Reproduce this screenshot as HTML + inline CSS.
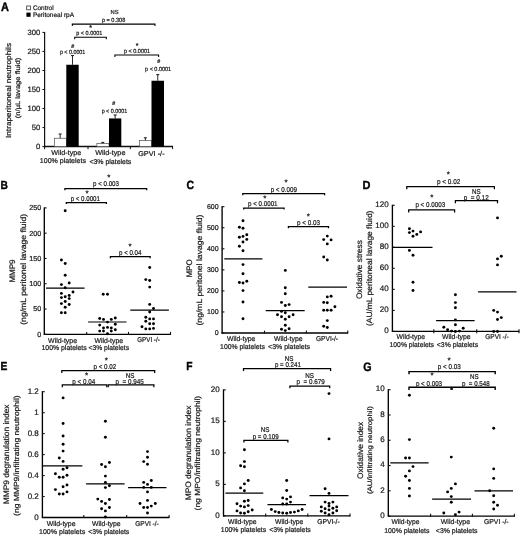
<!DOCTYPE html>
<html><head><meta charset="utf-8"><title>Figure</title>
<style>
html,body{margin:0;padding:0;background:#fff;}
svg{display:block;filter:grayscale(1);font-family:"Liberation Sans",sans-serif;}
text{stroke:#222;stroke-width:0.22px;paint-order:stroke;text-rendering:geometricPrecision;}
</style></head><body>
<svg width="520" height="536" viewBox="0 0 520 536">
<rect x="0" y="0" width="520" height="536" fill="#fff"/>
<text x="0.90" y="10.50" font-size="12.2" font-weight="bold" style="stroke:#000;stroke-width:0.38px" textLength="7.93" lengthAdjust="spacingAndGlyphs" fill="#000">A</text>
<rect x="26.70" y="6.00" width="3.80" height="3.80" fill="#fff" stroke="#333" stroke-width="0.8"/>
<rect x="26.40" y="12.60" width="4.20" height="4.20" fill="#000"/>
<text x="32.90" y="9.74" font-size="6.5" textLength="20.70" lengthAdjust="spacingAndGlyphs" fill="#1a1a1a">Control</text>
<text x="32.90" y="16.94" font-size="6.5" textLength="41.10" lengthAdjust="spacingAndGlyphs" fill="#1a1a1a">Peritoneal rpA</text>
<line x1="44.60" y1="31.90" x2="44.60" y2="147.30" stroke="#111" stroke-width="1.2"/>
<line x1="44.00" y1="146.60" x2="173.00" y2="146.60" stroke="#111" stroke-width="1.5"/>
<line x1="42.40" y1="146.60" x2="44.60" y2="146.60" stroke="#111" stroke-width="1"/>
<text x="40.30" y="149.37" font-size="7.7" text-anchor="end" fill="#1a1a1a">0</text>
<line x1="42.40" y1="127.57" x2="44.60" y2="127.57" stroke="#111" stroke-width="1"/>
<text x="40.30" y="130.34" font-size="7.7" text-anchor="end" fill="#1a1a1a">50</text>
<line x1="42.40" y1="108.53" x2="44.60" y2="108.53" stroke="#111" stroke-width="1"/>
<text x="40.30" y="111.31" font-size="7.7" text-anchor="end" fill="#1a1a1a">100</text>
<line x1="42.40" y1="89.50" x2="44.60" y2="89.50" stroke="#111" stroke-width="1"/>
<text x="40.30" y="92.27" font-size="7.7" text-anchor="end" fill="#1a1a1a">150</text>
<line x1="42.40" y1="70.47" x2="44.60" y2="70.47" stroke="#111" stroke-width="1"/>
<text x="40.30" y="73.24" font-size="7.7" text-anchor="end" fill="#1a1a1a">200</text>
<line x1="42.40" y1="51.43" x2="44.60" y2="51.43" stroke="#111" stroke-width="1"/>
<text x="40.30" y="54.21" font-size="7.7" text-anchor="end" fill="#1a1a1a">250</text>
<line x1="42.40" y1="32.40" x2="44.60" y2="32.40" stroke="#111" stroke-width="1"/>
<text x="40.30" y="35.17" font-size="7.7" text-anchor="end" fill="#1a1a1a">300</text>
<line x1="44.60" y1="146.60" x2="44.60" y2="149.20" stroke="#111" stroke-width="1"/>
<line x1="88.00" y1="146.60" x2="88.00" y2="149.20" stroke="#111" stroke-width="1"/>
<line x1="130.30" y1="146.60" x2="130.30" y2="149.20" stroke="#111" stroke-width="1"/>
<line x1="172.60" y1="146.60" x2="172.60" y2="149.20" stroke="#111" stroke-width="1"/>
<rect x="54.40" y="138.23" width="11.90" height="8.37" fill="#fff" stroke="#444" stroke-width="0.65"/>
<line x1="60.15" y1="138.23" x2="60.15" y2="134.04" stroke="#111" stroke-width="0.9"/>
<line x1="58.65" y1="134.04" x2="61.65" y2="134.04" stroke="#111" stroke-width="1.0"/>
<rect x="66.30" y="64.76" width="12.40" height="81.84" fill="#000"/>
<line x1="72.50" y1="64.76" x2="72.50" y2="55.62" stroke="#111" stroke-width="0.9"/>
<line x1="71.00" y1="55.62" x2="74.00" y2="55.62" stroke="#111" stroke-width="1.0"/>
<rect x="96.90" y="143.55" width="12.10" height="3.05" fill="#fff" stroke="#444" stroke-width="0.65"/>
<line x1="102.75" y1="143.55" x2="102.75" y2="142.41" stroke="#111" stroke-width="0.9"/>
<line x1="101.25" y1="142.41" x2="104.25" y2="142.41" stroke="#111" stroke-width="1.0"/>
<rect x="109.00" y="118.43" width="12.30" height="28.17" fill="#000"/>
<line x1="115.15" y1="118.43" x2="115.15" y2="115.00" stroke="#111" stroke-width="0.9"/>
<line x1="113.65" y1="115.00" x2="116.65" y2="115.00" stroke="#111" stroke-width="1.0"/>
<rect x="139.60" y="140.51" width="11.90" height="6.09" fill="#fff" stroke="#444" stroke-width="0.65"/>
<line x1="145.35" y1="140.51" x2="145.35" y2="137.84" stroke="#111" stroke-width="0.9"/>
<line x1="143.85" y1="137.84" x2="146.85" y2="137.84" stroke="#111" stroke-width="1.0"/>
<rect x="151.50" y="80.74" width="12.50" height="65.86" fill="#000"/>
<line x1="157.75" y1="80.74" x2="157.75" y2="74.65" stroke="#111" stroke-width="0.9"/>
<line x1="156.25" y1="74.65" x2="159.25" y2="74.65" stroke="#111" stroke-width="1.0"/>
<text x="66.30" y="155.12" font-size="7" text-anchor="middle" textLength="29.90" lengthAdjust="spacingAndGlyphs" fill="#1a1a1a">Wild-type</text>
<text x="62.90" y="163.32" font-size="7" text-anchor="middle" textLength="46.20" lengthAdjust="spacingAndGlyphs" fill="#1a1a1a">100% platelets</text>
<text x="110.30" y="155.12" font-size="7" text-anchor="middle" textLength="30.30" lengthAdjust="spacingAndGlyphs" fill="#1a1a1a">Wild-type</text>
<text x="110.40" y="163.52" font-size="7" text-anchor="middle" textLength="41.90" lengthAdjust="spacingAndGlyphs" fill="#1a1a1a">&lt;3% platelets</text>
<text x="151.40" y="155.52" font-size="7" text-anchor="middle" textLength="26.40" lengthAdjust="spacingAndGlyphs" fill="#1a1a1a">GPVI -/-</text>
<text x="10.80" y="90.50" font-size="7.4" text-anchor="middle" textLength="95.00" lengthAdjust="spacingAndGlyphs" transform="rotate(-90 10.80 90.50)" fill="#1a1a1a">Intraperitoneal neutrophils</text>
<text x="20.30" y="88.00" font-size="6.6" text-anchor="middle" textLength="60.50" lengthAdjust="spacingAndGlyphs" transform="rotate(-90 20.30 88.00)" fill="#1a1a1a">(n/µL lavage fluid)</text>
<path d="M72.30 26.10V24.10H155.00V26.10" fill="none" stroke="#000" stroke-width="1.06"/>
<text x="114.50" y="14.09" font-size="5.8" text-anchor="middle" fill="#1a1a1a">NS</text>
<text x="113.60" y="21.96" font-size="6" text-anchor="middle" textLength="23.40" lengthAdjust="spacingAndGlyphs" fill="#1a1a1a">p = 0.308</text>
<path d="M74.70 39.20V37.20H106.30V39.20" fill="none" stroke="#000" stroke-width="1.06"/>
<text x="90.60" y="30.29" font-size="7" text-anchor="middle" fill="#000">*</text>
<text x="89.30" y="35.46" font-size="6" text-anchor="middle" textLength="26.00" lengthAdjust="spacingAndGlyphs" fill="#1a1a1a">p &lt; 0.0001</text>
<text x="72.70" y="47.51" font-size="5.3" text-anchor="middle" font-weight="bold" fill="#1a1a1a">#</text>
<text x="72.60" y="53.76" font-size="6" text-anchor="middle" textLength="25.40" lengthAdjust="spacingAndGlyphs" fill="#1a1a1a">p &lt; 0.0001</text>
<path d="M114.90 57.00V55.00H158.60V57.00" fill="none" stroke="#000" stroke-width="1.06"/>
<text x="137.00" y="48.39" font-size="7" text-anchor="middle" fill="#000">*</text>
<text x="137.00" y="52.96" font-size="6" text-anchor="middle" textLength="26.20" lengthAdjust="spacingAndGlyphs" fill="#1a1a1a">p &lt; 0.0001</text>
<text x="158.70" y="62.91" font-size="5.3" text-anchor="middle" font-weight="bold" fill="#1a1a1a">#</text>
<text x="158.10" y="70.66" font-size="6" text-anchor="middle" textLength="26.00" lengthAdjust="spacingAndGlyphs" fill="#1a1a1a">p &lt; 0.0001</text>
<text x="113.80" y="104.51" font-size="5.3" text-anchor="middle" font-weight="bold" fill="#1a1a1a">#</text>
<text x="114.40" y="112.66" font-size="6" text-anchor="middle" textLength="25.50" lengthAdjust="spacingAndGlyphs" fill="#1a1a1a">p &lt; 0.0001</text>
<text x="0.60" y="189.10" font-size="11.8" font-weight="bold" style="stroke:#000;stroke-width:0.38px" textLength="7.41" lengthAdjust="spacingAndGlyphs" fill="#000">B</text>
<line x1="44.30" y1="207.40" x2="44.30" y2="334.80" stroke="#000" stroke-width="1.35"/>
<line x1="43.80" y1="334.30" x2="170.90" y2="334.30" stroke="#000" stroke-width="1.35"/>
<line x1="44.00" y1="334.30" x2="46.60" y2="334.30" stroke="#111" stroke-width="1.1"/>
<text x="41.20" y="336.69" font-size="7.2" text-anchor="end" fill="#1a1a1a">0</text>
<line x1="44.00" y1="309.02" x2="46.60" y2="309.02" stroke="#111" stroke-width="1.1"/>
<text x="41.20" y="311.41" font-size="7.2" text-anchor="end" fill="#1a1a1a">50</text>
<line x1="44.00" y1="283.74" x2="46.60" y2="283.74" stroke="#111" stroke-width="1.1"/>
<text x="41.20" y="286.13" font-size="7.2" text-anchor="end" fill="#1a1a1a">100</text>
<line x1="44.00" y1="258.46" x2="46.60" y2="258.46" stroke="#111" stroke-width="1.1"/>
<text x="41.20" y="260.85" font-size="7.2" text-anchor="end" fill="#1a1a1a">150</text>
<line x1="44.00" y1="233.18" x2="46.60" y2="233.18" stroke="#111" stroke-width="1.1"/>
<text x="41.20" y="235.57" font-size="7.2" text-anchor="end" fill="#1a1a1a">200</text>
<line x1="44.00" y1="207.90" x2="46.60" y2="207.90" stroke="#111" stroke-width="1.1"/>
<text x="41.20" y="210.29" font-size="7.2" text-anchor="end" fill="#1a1a1a">250</text>
<line x1="86.70" y1="331.90" x2="86.70" y2="334.90" stroke="#111" stroke-width="1.1"/>
<line x1="128.50" y1="331.90" x2="128.50" y2="334.90" stroke="#111" stroke-width="1.1"/>
<line x1="170.50" y1="331.90" x2="170.50" y2="334.90" stroke="#111" stroke-width="1.1"/>
<circle cx="65.20" cy="210.80" r="1.45" fill="#000"/>
<circle cx="61.40" cy="260.00" r="1.45" fill="#000"/>
<circle cx="65.20" cy="263.50" r="1.45" fill="#000"/>
<circle cx="65.20" cy="275.20" r="1.45" fill="#000"/>
<circle cx="61.40" cy="284.60" r="1.45" fill="#000"/>
<circle cx="69.20" cy="283.00" r="1.45" fill="#000"/>
<circle cx="65.20" cy="287.70" r="1.45" fill="#000"/>
<circle cx="73.00" cy="292.00" r="1.45" fill="#000"/>
<circle cx="61.40" cy="293.40" r="1.45" fill="#000"/>
<circle cx="69.20" cy="295.50" r="1.45" fill="#000"/>
<circle cx="65.20" cy="296.70" r="1.45" fill="#000"/>
<circle cx="61.40" cy="297.60" r="1.45" fill="#000"/>
<circle cx="69.20" cy="298.60" r="1.45" fill="#000"/>
<circle cx="65.20" cy="301.50" r="1.45" fill="#000"/>
<circle cx="61.40" cy="303.60" r="1.45" fill="#000"/>
<circle cx="69.20" cy="304.50" r="1.45" fill="#000"/>
<circle cx="65.20" cy="307.20" r="1.45" fill="#000"/>
<circle cx="61.40" cy="312.80" r="1.45" fill="#000"/>
<circle cx="65.20" cy="312.80" r="1.45" fill="#000"/>
<circle cx="103.20" cy="294.30" r="1.45" fill="#000"/>
<circle cx="107.50" cy="294.30" r="1.45" fill="#000"/>
<circle cx="99.70" cy="318.50" r="1.45" fill="#000"/>
<circle cx="103.50" cy="319.40" r="1.45" fill="#000"/>
<circle cx="111.30" cy="319.40" r="1.45" fill="#000"/>
<circle cx="115.30" cy="318.00" r="1.45" fill="#000"/>
<circle cx="107.50" cy="322.10" r="1.45" fill="#000"/>
<circle cx="99.70" cy="325.10" r="1.45" fill="#000"/>
<circle cx="115.30" cy="324.20" r="1.45" fill="#000"/>
<circle cx="103.50" cy="328.00" r="1.45" fill="#000"/>
<circle cx="107.50" cy="327.40" r="1.45" fill="#000"/>
<circle cx="111.30" cy="328.00" r="1.45" fill="#000"/>
<circle cx="99.70" cy="331.10" r="1.45" fill="#000"/>
<circle cx="103.50" cy="331.10" r="1.45" fill="#000"/>
<circle cx="111.30" cy="331.10" r="1.45" fill="#000"/>
<circle cx="115.30" cy="329.70" r="1.45" fill="#000"/>
<circle cx="107.50" cy="333.70" r="1.45" fill="#000"/>
<circle cx="149.70" cy="267.50" r="1.45" fill="#000"/>
<circle cx="145.80" cy="279.60" r="1.45" fill="#000"/>
<circle cx="149.70" cy="280.50" r="1.45" fill="#000"/>
<circle cx="149.70" cy="287.10" r="1.45" fill="#000"/>
<circle cx="149.70" cy="304.40" r="1.45" fill="#000"/>
<circle cx="153.50" cy="308.50" r="1.45" fill="#000"/>
<circle cx="149.70" cy="312.00" r="1.45" fill="#000"/>
<circle cx="145.80" cy="317.30" r="1.45" fill="#000"/>
<circle cx="149.70" cy="318.90" r="1.45" fill="#000"/>
<circle cx="153.50" cy="318.90" r="1.45" fill="#000"/>
<circle cx="145.80" cy="321.20" r="1.45" fill="#000"/>
<circle cx="149.70" cy="323.70" r="1.45" fill="#000"/>
<circle cx="153.50" cy="323.70" r="1.45" fill="#000"/>
<circle cx="142.00" cy="326.70" r="1.45" fill="#000"/>
<circle cx="145.80" cy="328.90" r="1.45" fill="#000"/>
<circle cx="149.70" cy="328.90" r="1.45" fill="#000"/>
<circle cx="153.50" cy="328.40" r="1.45" fill="#000"/>
<line x1="46.00" y1="288.20" x2="84.60" y2="288.20" stroke="#000" stroke-width="1.2"/>
<line x1="88.10" y1="322.00" x2="126.50" y2="322.00" stroke="#000" stroke-width="1.2"/>
<line x1="130.30" y1="310.20" x2="168.90" y2="310.20" stroke="#000" stroke-width="1.2"/>
<text x="62.60" y="342.52" font-size="7" text-anchor="middle" textLength="29.00" lengthAdjust="spacingAndGlyphs" fill="#1a1a1a">Wild-type</text>
<text x="108.80" y="342.52" font-size="7" text-anchor="middle" textLength="28.60" lengthAdjust="spacingAndGlyphs" fill="#1a1a1a">Wild-type</text>
<text x="148.50" y="342.32" font-size="7" text-anchor="middle" textLength="22.50" lengthAdjust="spacingAndGlyphs" fill="#1a1a1a">GPVI -/-</text>
<text x="64.10" y="350.12" font-size="7" text-anchor="middle" textLength="45.20" lengthAdjust="spacingAndGlyphs" fill="#1a1a1a">100% platelets</text>
<text x="108.80" y="350.12" font-size="7" text-anchor="middle" textLength="40.50" lengthAdjust="spacingAndGlyphs" fill="#1a1a1a">&lt;3% platelets</text>
<text x="14.80" y="271.00" font-size="8" text-anchor="middle" transform="rotate(-90 14.80 271.00)" fill="#1a1a1a">MMP9</text>
<text x="25.90" y="269.30" font-size="7.8" text-anchor="middle" textLength="111.00" lengthAdjust="spacingAndGlyphs" transform="rotate(-90 25.90 269.30)" fill="#1a1a1a">(ng/mL peritonel lavage fluid)</text>
<path d="M64.90 190.30V188.70H146.70V190.30" fill="none" stroke="#000" stroke-width="1.25"/>
<text x="108.70" y="180.00" font-size="8" text-anchor="middle" fill="#000">*</text>
<text x="106.00" y="186.22" font-size="7.0" text-anchor="middle" textLength="25.90" lengthAdjust="spacingAndGlyphs" fill="#1a1a1a">p &lt; 0.003</text>
<path d="M66.30 204.10V202.50H106.40V204.10" fill="none" stroke="#000" stroke-width="1.25"/>
<text x="87.00" y="195.60" font-size="8" text-anchor="middle" fill="#000">*</text>
<text x="85.30" y="200.92" font-size="7.0" text-anchor="middle" textLength="29.30" lengthAdjust="spacingAndGlyphs" fill="#1a1a1a">p &lt; 0.0001</text>
<path d="M110.40 258.30V256.70H150.20V258.30" fill="none" stroke="#000" stroke-width="1.25"/>
<text x="130.10" y="249.20" font-size="8" text-anchor="middle" fill="#000">*</text>
<text x="130.20" y="255.42" font-size="7.0" text-anchor="middle" textLength="22.40" lengthAdjust="spacingAndGlyphs" fill="#1a1a1a">p &lt; 0.04</text>
<text x="186.50" y="188.70" font-size="11.9" font-weight="bold" style="stroke:#000;stroke-width:0.38px" textLength="7.61" lengthAdjust="spacingAndGlyphs" fill="#000">C</text>
<line x1="222.10" y1="206.20" x2="222.10" y2="333.50" stroke="#000" stroke-width="1.35"/>
<line x1="221.60" y1="333.00" x2="348.00" y2="333.00" stroke="#000" stroke-width="1.35"/>
<line x1="221.80" y1="333.00" x2="224.40" y2="333.00" stroke="#111" stroke-width="1.1"/>
<text x="218.60" y="335.02" font-size="7" text-anchor="end" fill="#1a1a1a">0</text>
<line x1="221.80" y1="311.95" x2="224.40" y2="311.95" stroke="#111" stroke-width="1.1"/>
<text x="218.60" y="313.97" font-size="7" text-anchor="end" fill="#1a1a1a">100</text>
<line x1="221.80" y1="290.90" x2="224.40" y2="290.90" stroke="#111" stroke-width="1.1"/>
<text x="218.60" y="292.92" font-size="7" text-anchor="end" fill="#1a1a1a">200</text>
<line x1="221.80" y1="269.85" x2="224.40" y2="269.85" stroke="#111" stroke-width="1.1"/>
<text x="218.60" y="271.87" font-size="7" text-anchor="end" fill="#1a1a1a">300</text>
<line x1="221.80" y1="248.80" x2="224.40" y2="248.80" stroke="#111" stroke-width="1.1"/>
<text x="218.60" y="250.82" font-size="7" text-anchor="end" fill="#1a1a1a">400</text>
<line x1="221.80" y1="227.75" x2="224.40" y2="227.75" stroke="#111" stroke-width="1.1"/>
<text x="218.60" y="229.77" font-size="7" text-anchor="end" fill="#1a1a1a">500</text>
<line x1="221.80" y1="206.70" x2="224.40" y2="206.70" stroke="#111" stroke-width="1.1"/>
<text x="218.60" y="208.72" font-size="7" text-anchor="end" fill="#1a1a1a">600</text>
<line x1="264.50" y1="330.60" x2="264.50" y2="333.60" stroke="#111" stroke-width="1.1"/>
<line x1="306.40" y1="330.60" x2="306.40" y2="333.60" stroke="#111" stroke-width="1.1"/>
<line x1="347.80" y1="330.60" x2="347.80" y2="333.60" stroke="#111" stroke-width="1.1"/>
<circle cx="243.00" cy="220.80" r="1.45" fill="#000"/>
<circle cx="239.40" cy="227.20" r="1.45" fill="#000"/>
<circle cx="243.00" cy="228.30" r="1.45" fill="#000"/>
<circle cx="246.80" cy="234.70" r="1.45" fill="#000"/>
<circle cx="243.00" cy="236.40" r="1.45" fill="#000"/>
<circle cx="239.40" cy="237.30" r="1.45" fill="#000"/>
<circle cx="246.80" cy="239.40" r="1.45" fill="#000"/>
<circle cx="243.00" cy="242.00" r="1.45" fill="#000"/>
<circle cx="239.40" cy="246.30" r="1.45" fill="#000"/>
<circle cx="243.00" cy="250.80" r="1.45" fill="#000"/>
<circle cx="243.00" cy="264.60" r="1.45" fill="#000"/>
<circle cx="243.00" cy="273.80" r="1.45" fill="#000"/>
<circle cx="246.80" cy="281.30" r="1.45" fill="#000"/>
<circle cx="239.40" cy="282.50" r="1.45" fill="#000"/>
<circle cx="243.00" cy="283.00" r="1.45" fill="#000"/>
<circle cx="243.00" cy="290.60" r="1.45" fill="#000"/>
<circle cx="243.00" cy="302.00" r="1.45" fill="#000"/>
<circle cx="243.00" cy="318.80" r="1.45" fill="#000"/>
<circle cx="285.30" cy="270.40" r="1.45" fill="#000"/>
<circle cx="285.30" cy="287.70" r="1.45" fill="#000"/>
<circle cx="285.30" cy="293.70" r="1.45" fill="#000"/>
<circle cx="281.50" cy="302.40" r="1.45" fill="#000"/>
<circle cx="289.10" cy="304.60" r="1.45" fill="#000"/>
<circle cx="285.30" cy="305.50" r="1.45" fill="#000"/>
<circle cx="281.50" cy="311.40" r="1.45" fill="#000"/>
<circle cx="285.30" cy="312.80" r="1.45" fill="#000"/>
<circle cx="277.50" cy="314.80" r="1.45" fill="#000"/>
<circle cx="293.10" cy="314.80" r="1.45" fill="#000"/>
<circle cx="281.50" cy="316.70" r="1.45" fill="#000"/>
<circle cx="289.10" cy="316.70" r="1.45" fill="#000"/>
<circle cx="285.30" cy="319.30" r="1.45" fill="#000"/>
<circle cx="285.30" cy="325.20" r="1.45" fill="#000"/>
<circle cx="289.10" cy="328.70" r="1.45" fill="#000"/>
<circle cx="281.50" cy="329.20" r="1.45" fill="#000"/>
<circle cx="285.30" cy="330.60" r="1.45" fill="#000"/>
<circle cx="327.30" cy="236.10" r="1.45" fill="#000"/>
<circle cx="323.70" cy="239.60" r="1.45" fill="#000"/>
<circle cx="331.10" cy="239.90" r="1.45" fill="#000"/>
<circle cx="327.30" cy="243.90" r="1.45" fill="#000"/>
<circle cx="323.70" cy="257.00" r="1.45" fill="#000"/>
<circle cx="327.30" cy="260.00" r="1.45" fill="#000"/>
<circle cx="327.30" cy="296.90" r="1.45" fill="#000"/>
<circle cx="331.10" cy="296.30" r="1.45" fill="#000"/>
<circle cx="323.70" cy="302.40" r="1.45" fill="#000"/>
<circle cx="327.30" cy="302.70" r="1.45" fill="#000"/>
<circle cx="334.90" cy="306.70" r="1.45" fill="#000"/>
<circle cx="323.70" cy="310.20" r="1.45" fill="#000"/>
<circle cx="327.30" cy="310.20" r="1.45" fill="#000"/>
<circle cx="331.10" cy="310.20" r="1.45" fill="#000"/>
<circle cx="327.30" cy="320.60" r="1.45" fill="#000"/>
<circle cx="323.70" cy="326.30" r="1.45" fill="#000"/>
<circle cx="327.30" cy="327.50" r="1.45" fill="#000"/>
<line x1="224.30" y1="258.90" x2="262.40" y2="258.90" stroke="#000" stroke-width="1.2"/>
<line x1="265.70" y1="310.70" x2="304.70" y2="310.70" stroke="#000" stroke-width="1.2"/>
<line x1="308.30" y1="287.20" x2="347.00" y2="287.20" stroke="#000" stroke-width="1.2"/>
<text x="241.20" y="341.22" font-size="7" text-anchor="middle" textLength="28.50" lengthAdjust="spacingAndGlyphs" fill="#1a1a1a">Wild-type</text>
<text x="288.30" y="341.22" font-size="7" text-anchor="middle" textLength="28.60" lengthAdjust="spacingAndGlyphs" fill="#1a1a1a">Wild-type</text>
<text x="327.00" y="341.22" font-size="7" text-anchor="middle" textLength="22.10" lengthAdjust="spacingAndGlyphs" fill="#1a1a1a">GPVI-/-</text>
<text x="242.50" y="348.52" font-size="7" text-anchor="middle" textLength="44.80" lengthAdjust="spacingAndGlyphs" fill="#1a1a1a">100% platelets</text>
<text x="289.10" y="348.52" font-size="7" text-anchor="middle" textLength="42.00" lengthAdjust="spacingAndGlyphs" fill="#1a1a1a">&lt;3% platelets</text>
<text x="192.40" y="268.50" font-size="8" text-anchor="middle" transform="rotate(-90 192.40 268.50)" fill="#1a1a1a">MPO</text>
<text x="202.20" y="270.00" font-size="7.7" text-anchor="middle" textLength="111.00" lengthAdjust="spacingAndGlyphs" transform="rotate(-90 202.20 270.00)" fill="#1a1a1a">(ng/mL peritonel lavage fluid)</text>
<path d="M242.80 195.30V193.70H324.60V195.30" fill="none" stroke="#000" stroke-width="1.25"/>
<text x="286.10" y="185.20" font-size="8" text-anchor="middle" fill="#000">*</text>
<text x="283.80" y="192.12" font-size="7.0" text-anchor="middle" textLength="26.30" lengthAdjust="spacingAndGlyphs" fill="#1a1a1a">p &lt; 0.009</text>
<path d="M243.70 209.60V208.00H284.10V209.60" fill="none" stroke="#000" stroke-width="1.25"/>
<text x="264.80" y="201.30" font-size="8" text-anchor="middle" fill="#000">*</text>
<text x="262.80" y="205.72" font-size="7.0" text-anchor="middle" textLength="29.50" lengthAdjust="spacingAndGlyphs" fill="#1a1a1a">p &lt; 0.0001</text>
<path d="M288.40 228.20V226.60H328.50V228.20" fill="none" stroke="#000" stroke-width="1.25"/>
<text x="308.30" y="218.90" font-size="8" text-anchor="middle" fill="#000">*</text>
<text x="308.50" y="224.72" font-size="7.0" text-anchor="middle" textLength="22.90" lengthAdjust="spacingAndGlyphs" fill="#1a1a1a">p &lt; 0.03</text>
<text x="362.50" y="188.90" font-size="11.8" font-weight="bold" style="stroke:#000;stroke-width:0.38px" textLength="7.93" lengthAdjust="spacingAndGlyphs" fill="#000">D</text>
<line x1="392.40" y1="204.80" x2="392.40" y2="331.90" stroke="#000" stroke-width="1.35"/>
<line x1="391.90" y1="331.40" x2="519.30" y2="331.40" stroke="#000" stroke-width="1.35"/>
<line x1="392.10" y1="331.40" x2="394.70" y2="331.40" stroke="#111" stroke-width="1.1"/>
<text x="388.60" y="333.28" font-size="8" text-anchor="end" fill="#1a1a1a">0</text>
<line x1="392.10" y1="310.38" x2="394.70" y2="310.38" stroke="#111" stroke-width="1.1"/>
<text x="388.60" y="312.26" font-size="8" text-anchor="end" fill="#1a1a1a">20</text>
<line x1="392.10" y1="289.37" x2="394.70" y2="289.37" stroke="#111" stroke-width="1.1"/>
<text x="388.60" y="291.25" font-size="8" text-anchor="end" fill="#1a1a1a">40</text>
<line x1="392.10" y1="268.35" x2="394.70" y2="268.35" stroke="#111" stroke-width="1.1"/>
<text x="388.60" y="270.23" font-size="8" text-anchor="end" fill="#1a1a1a">60</text>
<line x1="392.10" y1="247.33" x2="394.70" y2="247.33" stroke="#111" stroke-width="1.1"/>
<text x="388.60" y="249.21" font-size="8" text-anchor="end" fill="#1a1a1a">80</text>
<line x1="392.10" y1="226.32" x2="394.70" y2="226.32" stroke="#111" stroke-width="1.1"/>
<text x="388.60" y="228.20" font-size="8" text-anchor="end" fill="#1a1a1a">100</text>
<line x1="392.10" y1="205.30" x2="394.70" y2="205.30" stroke="#111" stroke-width="1.1"/>
<text x="388.60" y="207.18" font-size="8" text-anchor="end" fill="#1a1a1a">120</text>
<line x1="433.80" y1="329.20" x2="433.80" y2="333.20" stroke="#111" stroke-width="1.1"/>
<line x1="476.70" y1="329.20" x2="476.70" y2="333.20" stroke="#111" stroke-width="1.1"/>
<line x1="519.00" y1="329.20" x2="519.00" y2="333.20" stroke="#111" stroke-width="1.1"/>
<circle cx="409.40" cy="228.80" r="1.45" fill="#000"/>
<circle cx="409.40" cy="232.60" r="1.45" fill="#000"/>
<circle cx="413.00" cy="231.10" r="1.45" fill="#000"/>
<circle cx="420.60" cy="231.90" r="1.45" fill="#000"/>
<circle cx="416.80" cy="234.40" r="1.45" fill="#000"/>
<circle cx="413.00" cy="236.30" r="1.45" fill="#000"/>
<circle cx="409.40" cy="250.40" r="1.45" fill="#000"/>
<circle cx="413.00" cy="255.30" r="1.45" fill="#000"/>
<circle cx="413.00" cy="282.20" r="1.45" fill="#000"/>
<circle cx="413.00" cy="290.50" r="1.45" fill="#000"/>
<circle cx="455.40" cy="294.80" r="1.45" fill="#000"/>
<circle cx="455.40" cy="302.60" r="1.45" fill="#000"/>
<circle cx="455.40" cy="307.80" r="1.45" fill="#000"/>
<circle cx="455.40" cy="319.90" r="1.45" fill="#000"/>
<circle cx="455.40" cy="324.70" r="1.45" fill="#000"/>
<circle cx="443.80" cy="327.30" r="1.45" fill="#000"/>
<circle cx="463.20" cy="328.20" r="1.45" fill="#000"/>
<circle cx="447.60" cy="329.70" r="1.45" fill="#000"/>
<circle cx="451.60" cy="331.10" r="1.45" fill="#000"/>
<circle cx="455.40" cy="331.50" r="1.45" fill="#000"/>
<circle cx="459.40" cy="331.10" r="1.45" fill="#000"/>
<circle cx="497.50" cy="217.90" r="1.45" fill="#000"/>
<circle cx="501.30" cy="256.20" r="1.45" fill="#000"/>
<circle cx="497.50" cy="258.90" r="1.45" fill="#000"/>
<circle cx="497.50" cy="264.90" r="1.45" fill="#000"/>
<circle cx="493.70" cy="310.40" r="1.45" fill="#000"/>
<circle cx="497.50" cy="312.10" r="1.45" fill="#000"/>
<circle cx="501.30" cy="317.60" r="1.45" fill="#000"/>
<circle cx="497.50" cy="319.50" r="1.45" fill="#000"/>
<circle cx="493.70" cy="331.50" r="1.45" fill="#000"/>
<circle cx="497.50" cy="331.50" r="1.45" fill="#000"/>
<line x1="392.20" y1="247.30" x2="432.50" y2="247.30" stroke="#000" stroke-width="1.2"/>
<line x1="436.10" y1="320.70" x2="474.60" y2="320.70" stroke="#000" stroke-width="1.2"/>
<line x1="478.10" y1="291.90" x2="516.50" y2="291.90" stroke="#000" stroke-width="1.2"/>
<text x="410.80" y="338.82" font-size="7" text-anchor="middle" textLength="28.40" lengthAdjust="spacingAndGlyphs" fill="#1a1a1a">Wild-type</text>
<text x="456.40" y="338.82" font-size="7" text-anchor="middle" textLength="28.60" lengthAdjust="spacingAndGlyphs" fill="#1a1a1a">Wild-type</text>
<text x="497.00" y="338.82" font-size="7" text-anchor="middle" textLength="23.30" lengthAdjust="spacingAndGlyphs" fill="#1a1a1a">GPVI -/-</text>
<text x="411.80" y="347.42" font-size="7" text-anchor="middle" textLength="44.40" lengthAdjust="spacingAndGlyphs" fill="#1a1a1a">100% platelets</text>
<text x="457.50" y="347.42" font-size="7" text-anchor="middle" textLength="41.30" lengthAdjust="spacingAndGlyphs" fill="#1a1a1a">&lt;3% platelets</text>
<text x="362.30" y="269.60" font-size="8" text-anchor="middle" textLength="59.00" lengthAdjust="spacingAndGlyphs" transform="rotate(-90 362.30 269.60)" fill="#1a1a1a">Oxidative stress</text>
<text x="372.00" y="268.30" font-size="7.8" text-anchor="middle" textLength="115.40" lengthAdjust="spacingAndGlyphs" transform="rotate(-90 372.00 268.30)" fill="#1a1a1a">(AU/mL peritoneal lavage fluid)</text>
<path d="M406.80 189.20V186.60H494.40V189.20" fill="none" stroke="#000" stroke-width="1.25"/>
<text x="448.20" y="177.40" font-size="8" text-anchor="middle" fill="#000">*</text>
<text x="448.60" y="184.32" font-size="7.0" text-anchor="middle" textLength="23.40" lengthAdjust="spacingAndGlyphs" fill="#1a1a1a">p &lt; 0.02</text>
<path d="M408.70 212.40V209.80H454.60V212.40" fill="none" stroke="#000" stroke-width="1.25"/>
<text x="431.70" y="200.40" font-size="8" text-anchor="middle" fill="#000">*</text>
<text x="430.30" y="207.12" font-size="7.0" text-anchor="middle" textLength="29.80" lengthAdjust="spacingAndGlyphs" fill="#1a1a1a">p &lt; 0.0003</text>
<path d="M455.40 203.20V200.60H497.50V203.20" fill="none" stroke="#000" stroke-width="1.25"/>
<text x="476.30" y="194.12" font-size="7.0" text-anchor="middle" textLength="8.70" lengthAdjust="spacingAndGlyphs" fill="#1a1a1a">NS</text>
<text x="476.20" y="199.72" font-size="7.0" text-anchor="middle" textLength="25.10" lengthAdjust="spacingAndGlyphs" fill="#1a1a1a">p  = 0.12</text>
<text x="0.60" y="369.90" font-size="11.8" font-weight="bold" style="stroke:#000;stroke-width:0.38px" textLength="6.85" lengthAdjust="spacingAndGlyphs" fill="#000">E</text>
<line x1="42.40" y1="391.20" x2="42.40" y2="518.00" stroke="#000" stroke-width="1.35"/>
<line x1="41.90" y1="517.50" x2="169.30" y2="517.50" stroke="#000" stroke-width="1.35"/>
<line x1="42.10" y1="517.50" x2="44.70" y2="517.50" stroke="#111" stroke-width="1.1"/>
<text x="38.80" y="519.68" font-size="8" text-anchor="end" fill="#1a1a1a">0</text>
<line x1="42.10" y1="496.53" x2="44.70" y2="496.53" stroke="#111" stroke-width="1.1"/>
<text x="38.80" y="498.71" font-size="8" text-anchor="end" fill="#1a1a1a">0.2</text>
<line x1="42.10" y1="475.57" x2="44.70" y2="475.57" stroke="#111" stroke-width="1.1"/>
<text x="38.80" y="477.75" font-size="8" text-anchor="end" fill="#1a1a1a">0.4</text>
<line x1="42.10" y1="454.60" x2="44.70" y2="454.60" stroke="#111" stroke-width="1.1"/>
<text x="38.80" y="456.78" font-size="8" text-anchor="end" fill="#1a1a1a">0.6</text>
<line x1="42.10" y1="433.63" x2="44.70" y2="433.63" stroke="#111" stroke-width="1.1"/>
<text x="38.80" y="435.81" font-size="8" text-anchor="end" fill="#1a1a1a">0.8</text>
<line x1="42.10" y1="412.67" x2="44.70" y2="412.67" stroke="#111" stroke-width="1.1"/>
<text x="38.80" y="414.85" font-size="8" text-anchor="end" fill="#1a1a1a">1</text>
<line x1="42.10" y1="391.70" x2="44.70" y2="391.70" stroke="#111" stroke-width="1.1"/>
<text x="38.80" y="393.88" font-size="8" text-anchor="end" fill="#1a1a1a">1.2</text>
<line x1="83.80" y1="515.10" x2="83.80" y2="518.10" stroke="#111" stroke-width="1.1"/>
<line x1="126.70" y1="515.10" x2="126.70" y2="518.10" stroke="#111" stroke-width="1.1"/>
<line x1="169.10" y1="515.10" x2="169.10" y2="518.10" stroke="#111" stroke-width="1.1"/>
<circle cx="63.10" cy="397.90" r="1.45" fill="#000"/>
<circle cx="63.10" cy="423.50" r="1.45" fill="#000"/>
<circle cx="63.10" cy="436.00" r="1.45" fill="#000"/>
<circle cx="63.10" cy="444.30" r="1.45" fill="#000"/>
<circle cx="63.10" cy="451.10" r="1.45" fill="#000"/>
<circle cx="59.30" cy="458.00" r="1.45" fill="#000"/>
<circle cx="63.10" cy="461.40" r="1.45" fill="#000"/>
<circle cx="67.00" cy="467.70" r="1.45" fill="#000"/>
<circle cx="63.10" cy="469.20" r="1.45" fill="#000"/>
<circle cx="55.40" cy="473.70" r="1.45" fill="#000"/>
<circle cx="67.00" cy="475.30" r="1.45" fill="#000"/>
<circle cx="59.30" cy="477.20" r="1.45" fill="#000"/>
<circle cx="63.10" cy="477.20" r="1.45" fill="#000"/>
<circle cx="67.00" cy="485.00" r="1.45" fill="#000"/>
<circle cx="63.10" cy="486.70" r="1.45" fill="#000"/>
<circle cx="55.40" cy="489.60" r="1.45" fill="#000"/>
<circle cx="67.00" cy="491.90" r="1.45" fill="#000"/>
<circle cx="59.30" cy="494.00" r="1.45" fill="#000"/>
<circle cx="63.10" cy="494.00" r="1.45" fill="#000"/>
<circle cx="105.40" cy="421.30" r="1.45" fill="#000"/>
<circle cx="105.40" cy="437.20" r="1.45" fill="#000"/>
<circle cx="109.40" cy="462.50" r="1.45" fill="#000"/>
<circle cx="101.60" cy="464.50" r="1.45" fill="#000"/>
<circle cx="105.40" cy="466.80" r="1.45" fill="#000"/>
<circle cx="105.40" cy="476.10" r="1.45" fill="#000"/>
<circle cx="105.40" cy="482.40" r="1.45" fill="#000"/>
<circle cx="109.40" cy="485.70" r="1.45" fill="#000"/>
<circle cx="105.40" cy="487.60" r="1.45" fill="#000"/>
<circle cx="97.80" cy="499.10" r="1.45" fill="#000"/>
<circle cx="109.40" cy="499.50" r="1.45" fill="#000"/>
<circle cx="101.60" cy="501.40" r="1.45" fill="#000"/>
<circle cx="105.40" cy="503.50" r="1.45" fill="#000"/>
<circle cx="109.40" cy="507.50" r="1.45" fill="#000"/>
<circle cx="101.60" cy="508.70" r="1.45" fill="#000"/>
<circle cx="105.40" cy="510.90" r="1.45" fill="#000"/>
<circle cx="105.40" cy="517.00" r="1.45" fill="#000"/>
<circle cx="147.50" cy="451.60" r="1.45" fill="#000"/>
<circle cx="147.50" cy="457.30" r="1.45" fill="#000"/>
<circle cx="143.70" cy="461.60" r="1.45" fill="#000"/>
<circle cx="147.50" cy="464.20" r="1.45" fill="#000"/>
<circle cx="151.30" cy="480.50" r="1.45" fill="#000"/>
<circle cx="143.70" cy="482.40" r="1.45" fill="#000"/>
<circle cx="147.50" cy="484.40" r="1.45" fill="#000"/>
<circle cx="143.70" cy="487.40" r="1.45" fill="#000"/>
<circle cx="151.30" cy="487.40" r="1.45" fill="#000"/>
<circle cx="147.50" cy="491.90" r="1.45" fill="#000"/>
<circle cx="147.50" cy="500.40" r="1.45" fill="#000"/>
<circle cx="140.00" cy="503.50" r="1.45" fill="#000"/>
<circle cx="155.30" cy="503.50" r="1.45" fill="#000"/>
<circle cx="151.30" cy="506.10" r="1.45" fill="#000"/>
<circle cx="143.70" cy="507.50" r="1.45" fill="#000"/>
<circle cx="147.50" cy="507.50" r="1.45" fill="#000"/>
<circle cx="147.50" cy="513.00" r="1.45" fill="#000"/>
<line x1="42.00" y1="465.90" x2="82.40" y2="465.90" stroke="#000" stroke-width="1.2"/>
<line x1="86.10" y1="483.90" x2="124.60" y2="483.90" stroke="#000" stroke-width="1.2"/>
<line x1="128.10" y1="487.60" x2="166.50" y2="487.60" stroke="#000" stroke-width="1.2"/>
<text x="61.10" y="525.52" font-size="7" text-anchor="middle" textLength="28.90" lengthAdjust="spacingAndGlyphs" fill="#1a1a1a">Wild-type</text>
<text x="106.40" y="525.52" font-size="7" text-anchor="middle" textLength="28.60" lengthAdjust="spacingAndGlyphs" fill="#1a1a1a">Wild-type</text>
<text x="147.00" y="525.52" font-size="7" text-anchor="middle" textLength="23.30" lengthAdjust="spacingAndGlyphs" fill="#1a1a1a">GPVI -/-</text>
<text x="62.10" y="534.02" font-size="7" text-anchor="middle" textLength="46.10" lengthAdjust="spacingAndGlyphs" fill="#1a1a1a">100% platelets</text>
<text x="108.80" y="534.02" font-size="7" text-anchor="middle" textLength="40.90" lengthAdjust="spacingAndGlyphs" fill="#1a1a1a">&lt;3% platelets</text>
<text x="9.00" y="454.40" font-size="8" text-anchor="middle" textLength="99.80" lengthAdjust="spacingAndGlyphs" transform="rotate(-90 9.00 454.40)" fill="#1a1a1a">MMP9 degranulation index</text>
<text x="18.70" y="455.60" font-size="7.4" text-anchor="middle" textLength="120.60" lengthAdjust="spacingAndGlyphs" transform="rotate(-90 18.70 455.60)" fill="#1a1a1a">(ng MMP9/infiltrating neutrophil)</text>
<path d="M61.80 373.00V370.60H154.70V373.00" fill="none" stroke="#000" stroke-width="1.25"/>
<text x="106.30" y="363.10" font-size="8" text-anchor="middle" fill="#000">*</text>
<text x="104.90" y="368.92" font-size="7.0" text-anchor="middle" textLength="22.80" lengthAdjust="spacingAndGlyphs" fill="#1a1a1a">p &lt; 0.02</text>
<path d="M62.30 387.30V384.90H106.80V387.30" fill="none" stroke="#000" stroke-width="1.25"/>
<text x="86.60" y="377.50" font-size="8" text-anchor="middle" fill="#000">*</text>
<text x="83.70" y="383.52" font-size="7.0" text-anchor="middle" textLength="23.00" lengthAdjust="spacingAndGlyphs" fill="#1a1a1a">p &lt; 0.04</text>
<path d="M108.20 387.30V384.90H153.90V387.30" fill="none" stroke="#000" stroke-width="1.25"/>
<text x="130.10" y="377.62" font-size="7.0" text-anchor="middle" textLength="8.70" lengthAdjust="spacingAndGlyphs" fill="#1a1a1a">NS</text>
<text x="129.60" y="383.62" font-size="7.0" text-anchor="middle" textLength="28.20" lengthAdjust="spacingAndGlyphs" fill="#1a1a1a">p  = 0.945</text>
<text x="186.20" y="369.90" font-size="11.8" font-weight="bold" style="stroke:#000;stroke-width:0.38px" textLength="6.27" lengthAdjust="spacingAndGlyphs" fill="#000">F</text>
<line x1="223.50" y1="389.40" x2="223.50" y2="516.40" stroke="#000" stroke-width="1.35"/>
<line x1="223.00" y1="515.90" x2="350.30" y2="515.90" stroke="#000" stroke-width="1.35"/>
<line x1="223.20" y1="515.90" x2="225.80" y2="515.90" stroke="#111" stroke-width="1.1"/>
<text x="219.70" y="517.78" font-size="8" text-anchor="end" fill="#1a1a1a">0</text>
<line x1="223.20" y1="484.40" x2="225.80" y2="484.40" stroke="#111" stroke-width="1.1"/>
<text x="219.70" y="486.28" font-size="8" text-anchor="end" fill="#1a1a1a">5</text>
<line x1="223.20" y1="452.90" x2="225.80" y2="452.90" stroke="#111" stroke-width="1.1"/>
<text x="219.70" y="454.78" font-size="8" text-anchor="end" fill="#1a1a1a">10</text>
<line x1="223.20" y1="421.40" x2="225.80" y2="421.40" stroke="#111" stroke-width="1.1"/>
<text x="219.70" y="423.28" font-size="8" text-anchor="end" fill="#1a1a1a">15</text>
<line x1="223.20" y1="389.90" x2="225.80" y2="389.90" stroke="#111" stroke-width="1.1"/>
<text x="219.70" y="391.78" font-size="8" text-anchor="end" fill="#1a1a1a">20</text>
<line x1="265.70" y1="513.50" x2="265.70" y2="516.50" stroke="#111" stroke-width="1.1"/>
<line x1="307.80" y1="513.50" x2="307.80" y2="516.50" stroke="#111" stroke-width="1.1"/>
<line x1="350.00" y1="513.50" x2="350.00" y2="516.50" stroke="#111" stroke-width="1.1"/>
<circle cx="244.40" cy="449.80" r="1.45" fill="#000"/>
<circle cx="244.40" cy="461.60" r="1.45" fill="#000"/>
<circle cx="240.60" cy="465.80" r="1.45" fill="#000"/>
<circle cx="244.40" cy="466.80" r="1.45" fill="#000"/>
<circle cx="248.20" cy="480.50" r="1.45" fill="#000"/>
<circle cx="244.40" cy="483.90" r="1.45" fill="#000"/>
<circle cx="240.60" cy="487.90" r="1.45" fill="#000"/>
<circle cx="244.40" cy="490.80" r="1.45" fill="#000"/>
<circle cx="248.20" cy="500.50" r="1.45" fill="#000"/>
<circle cx="244.40" cy="501.20" r="1.45" fill="#000"/>
<circle cx="237.00" cy="503.80" r="1.45" fill="#000"/>
<circle cx="248.20" cy="505.60" r="1.45" fill="#000"/>
<circle cx="240.60" cy="506.10" r="1.45" fill="#000"/>
<circle cx="244.40" cy="506.90" r="1.45" fill="#000"/>
<circle cx="252.20" cy="510.00" r="1.45" fill="#000"/>
<circle cx="237.00" cy="510.90" r="1.45" fill="#000"/>
<circle cx="248.20" cy="511.80" r="1.45" fill="#000"/>
<circle cx="240.60" cy="513.00" r="1.45" fill="#000"/>
<circle cx="244.40" cy="513.30" r="1.45" fill="#000"/>
<circle cx="286.70" cy="480.50" r="1.45" fill="#000"/>
<circle cx="286.70" cy="490.50" r="1.45" fill="#000"/>
<circle cx="290.50" cy="496.90" r="1.45" fill="#000"/>
<circle cx="282.70" cy="497.90" r="1.45" fill="#000"/>
<circle cx="286.70" cy="499.10" r="1.45" fill="#000"/>
<circle cx="290.50" cy="502.10" r="1.45" fill="#000"/>
<circle cx="282.70" cy="504.00" r="1.45" fill="#000"/>
<circle cx="286.70" cy="504.00" r="1.45" fill="#000"/>
<circle cx="271.40" cy="509.50" r="1.45" fill="#000"/>
<circle cx="302.10" cy="509.50" r="1.45" fill="#000"/>
<circle cx="275.20" cy="511.60" r="1.45" fill="#000"/>
<circle cx="298.30" cy="510.90" r="1.45" fill="#000"/>
<circle cx="278.90" cy="512.50" r="1.45" fill="#000"/>
<circle cx="294.40" cy="512.10" r="1.45" fill="#000"/>
<circle cx="282.70" cy="513.00" r="1.45" fill="#000"/>
<circle cx="290.50" cy="512.50" r="1.45" fill="#000"/>
<circle cx="286.70" cy="513.30" r="1.45" fill="#000"/>
<circle cx="329.00" cy="393.60" r="1.45" fill="#000"/>
<circle cx="329.00" cy="438.90" r="1.45" fill="#000"/>
<circle cx="325.10" cy="488.80" r="1.45" fill="#000"/>
<circle cx="329.00" cy="493.40" r="1.45" fill="#000"/>
<circle cx="325.10" cy="502.10" r="1.45" fill="#000"/>
<circle cx="332.90" cy="502.10" r="1.45" fill="#000"/>
<circle cx="329.00" cy="503.50" r="1.45" fill="#000"/>
<circle cx="321.30" cy="506.90" r="1.45" fill="#000"/>
<circle cx="329.00" cy="506.10" r="1.45" fill="#000"/>
<circle cx="336.70" cy="506.90" r="1.45" fill="#000"/>
<circle cx="325.10" cy="508.70" r="1.45" fill="#000"/>
<circle cx="332.90" cy="508.30" r="1.45" fill="#000"/>
<circle cx="329.00" cy="509.90" r="1.45" fill="#000"/>
<circle cx="321.30" cy="511.30" r="1.45" fill="#000"/>
<circle cx="336.70" cy="510.70" r="1.45" fill="#000"/>
<circle cx="325.10" cy="513.00" r="1.45" fill="#000"/>
<circle cx="332.90" cy="513.00" r="1.45" fill="#000"/>
<circle cx="329.00" cy="514.70" r="1.45" fill="#000"/>
<line x1="225.40" y1="493.10" x2="263.30" y2="493.10" stroke="#000" stroke-width="1.2"/>
<line x1="267.50" y1="504.70" x2="306.00" y2="504.70" stroke="#000" stroke-width="1.2"/>
<line x1="309.50" y1="495.70" x2="348.50" y2="495.70" stroke="#000" stroke-width="1.2"/>
<text x="242.30" y="523.92" font-size="7" text-anchor="middle" textLength="28.50" lengthAdjust="spacingAndGlyphs" fill="#1a1a1a">Wild-type</text>
<text x="289.20" y="523.92" font-size="7" text-anchor="middle" textLength="28.50" lengthAdjust="spacingAndGlyphs" fill="#1a1a1a">Wild-type</text>
<text x="328.50" y="523.92" font-size="7" text-anchor="middle" textLength="22.50" lengthAdjust="spacingAndGlyphs" fill="#1a1a1a">GPVI-/-</text>
<text x="243.50" y="532.32" font-size="7" text-anchor="middle" textLength="45.30" lengthAdjust="spacingAndGlyphs" fill="#1a1a1a">100% platelets</text>
<text x="290.00" y="532.32" font-size="7" text-anchor="middle" textLength="41.60" lengthAdjust="spacingAndGlyphs" fill="#1a1a1a">&lt;3% platelets</text>
<text x="190.60" y="453.00" font-size="8" text-anchor="middle" textLength="94.70" lengthAdjust="spacingAndGlyphs" transform="rotate(-90 190.60 453.00)" fill="#1a1a1a">MPO degranulation index</text>
<text x="200.20" y="453.10" font-size="7.4" text-anchor="middle" textLength="114.60" lengthAdjust="spacingAndGlyphs" transform="rotate(-90 200.20 453.10)" fill="#1a1a1a">(ng MPO/infiltrating neutrophil)</text>
<path d="M243.50 370.90V368.50H330.60V370.90" fill="none" stroke="#000" stroke-width="1.25"/>
<text x="289.10" y="360.82" font-size="7.0" text-anchor="middle" textLength="8.70" lengthAdjust="spacingAndGlyphs" fill="#1a1a1a">NS</text>
<text x="287.90" y="366.92" font-size="7.0" text-anchor="middle" textLength="25.90" lengthAdjust="spacingAndGlyphs" fill="#1a1a1a">p = 0.241</text>
<path d="M289.90 388.20V386.00H329.70V388.20" fill="none" stroke="#000" stroke-width="1.25"/>
<text x="309.50" y="377.62" font-size="7.0" text-anchor="middle" textLength="8.70" lengthAdjust="spacingAndGlyphs" fill="#1a1a1a">NS</text>
<text x="310.60" y="384.22" font-size="7.0" text-anchor="middle" textLength="28.20" lengthAdjust="spacingAndGlyphs" fill="#1a1a1a">p  = 0.679</text>
<path d="M243.90 442.50V440.30H287.90V442.50" fill="none" stroke="#000" stroke-width="1.25"/>
<text x="265.10" y="432.12" font-size="7.0" text-anchor="middle" textLength="8.70" lengthAdjust="spacingAndGlyphs" fill="#1a1a1a">NS</text>
<text x="265.70" y="438.52" font-size="7.0" text-anchor="middle" textLength="26.00" lengthAdjust="spacingAndGlyphs" fill="#1a1a1a">p = 0.109</text>
<text x="363.20" y="370.80" font-size="12.3" font-weight="bold" style="stroke:#000;stroke-width:0.38px" textLength="8.33" lengthAdjust="spacingAndGlyphs" fill="#000">G</text>
<line x1="388.30" y1="389.20" x2="388.30" y2="516.60" stroke="#000" stroke-width="1.35"/>
<line x1="387.80" y1="516.10" x2="514.60" y2="516.10" stroke="#000" stroke-width="1.35"/>
<line x1="388.00" y1="516.10" x2="390.60" y2="516.10" stroke="#111" stroke-width="1.1"/>
<text x="384.70" y="517.88" font-size="8" text-anchor="end" fill="#1a1a1a">0</text>
<line x1="388.00" y1="490.82" x2="390.60" y2="490.82" stroke="#111" stroke-width="1.1"/>
<text x="384.70" y="492.60" font-size="8" text-anchor="end" fill="#1a1a1a">2</text>
<line x1="388.00" y1="465.54" x2="390.60" y2="465.54" stroke="#111" stroke-width="1.1"/>
<text x="384.70" y="467.32" font-size="8" text-anchor="end" fill="#1a1a1a">4</text>
<line x1="388.00" y1="440.26" x2="390.60" y2="440.26" stroke="#111" stroke-width="1.1"/>
<text x="384.70" y="442.04" font-size="8" text-anchor="end" fill="#1a1a1a">6</text>
<line x1="388.00" y1="414.98" x2="390.60" y2="414.98" stroke="#111" stroke-width="1.1"/>
<text x="384.70" y="416.76" font-size="8" text-anchor="end" fill="#1a1a1a">8</text>
<line x1="388.00" y1="389.70" x2="390.60" y2="389.70" stroke="#111" stroke-width="1.1"/>
<text x="384.70" y="391.48" font-size="8" text-anchor="end" fill="#1a1a1a">10</text>
<line x1="430.60" y1="513.70" x2="430.60" y2="516.70" stroke="#111" stroke-width="1.1"/>
<line x1="472.40" y1="513.70" x2="472.40" y2="516.70" stroke="#111" stroke-width="1.1"/>
<line x1="514.40" y1="513.70" x2="514.40" y2="516.70" stroke="#111" stroke-width="1.1"/>
<circle cx="409.40" cy="395.30" r="1.45" fill="#000"/>
<circle cx="409.40" cy="439.60" r="1.45" fill="#000"/>
<circle cx="405.60" cy="458.00" r="1.45" fill="#000"/>
<circle cx="409.40" cy="458.00" r="1.45" fill="#000"/>
<circle cx="413.00" cy="466.60" r="1.45" fill="#000"/>
<circle cx="409.40" cy="470.90" r="1.45" fill="#000"/>
<circle cx="405.60" cy="476.30" r="1.45" fill="#000"/>
<circle cx="409.40" cy="480.50" r="1.45" fill="#000"/>
<circle cx="409.40" cy="488.40" r="1.45" fill="#000"/>
<circle cx="409.40" cy="496.00" r="1.45" fill="#000"/>
<circle cx="451.30" cy="457.10" r="1.45" fill="#000"/>
<circle cx="455.40" cy="483.90" r="1.45" fill="#000"/>
<circle cx="451.30" cy="488.40" r="1.45" fill="#000"/>
<circle cx="447.60" cy="491.90" r="1.45" fill="#000"/>
<circle cx="451.30" cy="496.60" r="1.45" fill="#000"/>
<circle cx="451.30" cy="502.30" r="1.45" fill="#000"/>
<circle cx="443.80" cy="513.00" r="1.45" fill="#000"/>
<circle cx="459.10" cy="512.10" r="1.45" fill="#000"/>
<circle cx="455.40" cy="514.70" r="1.45" fill="#000"/>
<circle cx="493.70" cy="428.20" r="1.45" fill="#000"/>
<circle cx="493.70" cy="468.90" r="1.45" fill="#000"/>
<circle cx="493.70" cy="478.40" r="1.45" fill="#000"/>
<circle cx="489.70" cy="490.80" r="1.45" fill="#000"/>
<circle cx="493.70" cy="495.70" r="1.45" fill="#000"/>
<circle cx="493.70" cy="502.30" r="1.45" fill="#000"/>
<circle cx="497.50" cy="505.20" r="1.45" fill="#000"/>
<circle cx="493.70" cy="509.00" r="1.45" fill="#000"/>
<line x1="390.30" y1="462.80" x2="428.60" y2="462.80" stroke="#000" stroke-width="1.2"/>
<line x1="432.10" y1="499.10" x2="471.00" y2="499.10" stroke="#000" stroke-width="1.2"/>
<line x1="474.50" y1="490.80" x2="513.00" y2="490.80" stroke="#000" stroke-width="1.2"/>
<text x="405.40" y="524.22" font-size="7" text-anchor="middle" textLength="28.00" lengthAdjust="spacingAndGlyphs" fill="#1a1a1a">Wild-type</text>
<text x="455.40" y="524.22" font-size="7" text-anchor="middle" textLength="29.40" lengthAdjust="spacingAndGlyphs" fill="#1a1a1a">Wild-type</text>
<text x="496.30" y="524.22" font-size="7" text-anchor="middle" textLength="24.70" lengthAdjust="spacingAndGlyphs" fill="#1a1a1a">GPVI -/-</text>
<text x="406.80" y="532.52" font-size="7" text-anchor="middle" textLength="45.30" lengthAdjust="spacingAndGlyphs" fill="#1a1a1a">100% platelets</text>
<text x="456.70" y="532.52" font-size="7" text-anchor="middle" textLength="41.70" lengthAdjust="spacingAndGlyphs" fill="#1a1a1a">&lt;3% platelets</text>
<text x="362.80" y="450.40" font-size="8" text-anchor="middle" textLength="57.10" lengthAdjust="spacingAndGlyphs" transform="rotate(-90 362.80 450.40)" fill="#1a1a1a">Oxidative index</text>
<text x="372.20" y="450.10" font-size="6.5" text-anchor="middle" textLength="87.80" lengthAdjust="spacingAndGlyphs" transform="rotate(-90 372.20 450.10)" fill="#1a1a1a">(AU/infiltrating neutrophil)</text>
<path d="M409.00 374.20V371.60H495.20V374.20" fill="none" stroke="#000" stroke-width="1.40"/>
<text x="449.00" y="362.60" font-size="8" text-anchor="middle" fill="#000">*</text>
<text x="449.30" y="369.42" font-size="7.0" text-anchor="middle" textLength="23.00" lengthAdjust="spacingAndGlyphs" fill="#1a1a1a">p &lt; 0.03</text>
<path d="M409.00 389.90V387.30H451.10V389.90" fill="none" stroke="#000" stroke-width="1.40"/>
<text x="432.10" y="378.30" font-size="8" text-anchor="middle" fill="#000">*</text>
<text x="429.00" y="385.52" font-size="7.0" text-anchor="middle" textLength="26.20" lengthAdjust="spacingAndGlyphs" fill="#1a1a1a">p &lt; 0.003</text>
<path d="M452.10 389.90V387.30H495.20V389.90" fill="none" stroke="#000" stroke-width="1.40"/>
<text x="474.40" y="379.32" font-size="7.0" text-anchor="middle" textLength="8.70" lengthAdjust="spacingAndGlyphs" fill="#1a1a1a">NS</text>
<text x="475.80" y="385.62" font-size="7.0" text-anchor="middle" textLength="27.70" lengthAdjust="spacingAndGlyphs" fill="#1a1a1a">p  = 0.548</text>
</svg>
</body></html>
